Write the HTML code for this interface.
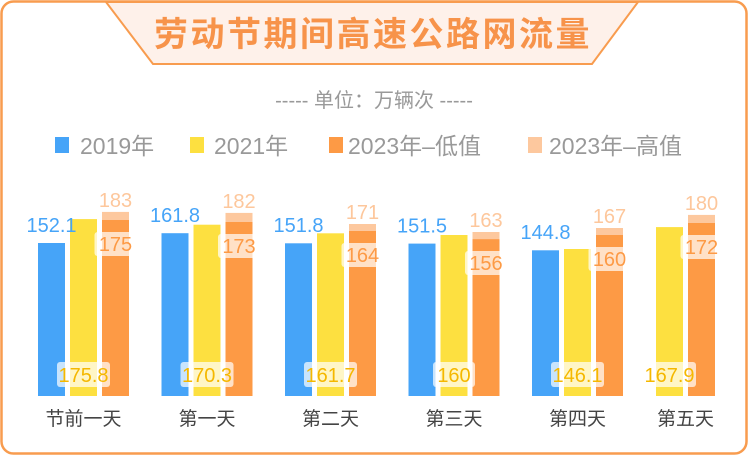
<!DOCTYPE html>
<html><head><meta charset="utf-8"><style>
body{margin:0;background:#fff;}
svg{display:block;font-family:"Liberation Sans","Noto Sans CJK SC",sans-serif;}
</style></head><body>
<svg width="748" height="455" viewBox="0 0 748 455" xmlns="http://www.w3.org/2000/svg">
<rect x="1.5" y="1.5" width="745" height="452" rx="12" fill="#fff" stroke="#f89c4f" stroke-width="2.5"/>
<polygon points="106,2 638,2 592,64 153,64" fill="#fef1ea" stroke="#f89c4f" stroke-width="2"/>
<text x="373" y="46" text-anchor="middle" font-size="34" font-weight="bold" fill="#f7934a" letter-spacing="2.5">劳动节期间高速公路网流量</text>
<text x="374" y="107" text-anchor="middle" font-size="20" fill="#999">----- 单位：万辆次 -----</text>
<g font-size="23" fill="#999">
<rect x="55" y="137" width="14" height="16" fill="#46a4f8"/><text x="80" y="154">2019年</text>
<rect x="190" y="137" width="14" height="16" fill="#fde040"/><text x="214" y="154">2021年</text>
<rect x="329" y="137" width="14" height="16" fill="#fd9a45"/><text x="348" y="154">2023年–低值</text>
<rect x="528" y="137" width="14" height="16" fill="#fdc89e"/><text x="549" y="154">2023年–高值</text>
</g>
<g>
<rect x="38" y="243" width="27" height="153" fill="#46a4f8"/>
<rect x="161.5" y="233.2" width="27" height="162.8" fill="#46a4f8"/>
<rect x="285" y="243.3" width="27" height="152.7" fill="#46a4f8"/>
<rect x="408.5" y="243.6" width="27" height="152.4" fill="#46a4f8"/>
<rect x="532" y="250.3" width="27" height="145.7" fill="#46a4f8"/>
<rect x="70" y="219.1" width="27" height="176.9" fill="#fde040"/>
<rect x="193.5" y="224.7" width="27" height="171.3" fill="#fde040"/>
<rect x="317" y="233.3" width="27" height="162.7" fill="#fde040"/>
<rect x="440.5" y="235" width="27" height="161" fill="#fde040"/>
<rect x="564" y="249" width="27" height="147" fill="#fde040"/>
<rect x="656" y="227.1" width="27" height="168.9" fill="#fde040"/>
<rect x="102" y="211.9" width="27" height="9" fill="#fdc89e"/>
<rect x="225.5" y="212.9" width="27" height="10" fill="#fdc89e"/>
<rect x="349" y="224" width="27" height="7" fill="#fdc89e"/>
<rect x="472.5" y="232" width="27" height="7.1" fill="#fdc89e"/>
<rect x="596" y="228" width="27" height="7" fill="#fdc89e"/>
<rect x="688" y="214.9" width="27" height="8.1" fill="#fdc89e"/>
<rect x="102" y="220" width="27" height="176" fill="#fd9a45"/>
<rect x="225.5" y="222" width="27" height="174" fill="#fd9a45"/>
<rect x="349" y="231" width="27" height="165" fill="#fd9a45"/>
<rect x="472.5" y="239.1" width="27" height="156.9" fill="#fd9a45"/>
<rect x="596" y="235" width="27" height="161" fill="#fd9a45"/>
<rect x="688" y="223" width="27" height="173" fill="#fd9a45"/>
</g>
<g font-size="20" text-anchor="middle">
<g fill="#46a4f8">
<text x="51.5" y="232">152.1</text><text x="175" y="222">161.8</text><text x="298.5" y="232">151.8</text><text x="422" y="232.5">151.5</text><text x="545.5" y="239">144.8</text>
</g>
<g fill="#fdc79c">
<text x="115.5" y="207">183</text><text x="239" y="208">182</text><text x="362.5" y="219">171</text><text x="486" y="227">163</text><text x="609.5" y="223">167</text><text x="701.5" y="210">180</text>
</g>
<g fill="#fff" fill-opacity="0.7">
<rect x="94.5" y="232" width="42" height="24" rx="3"/><rect x="218" y="234" width="42" height="24" rx="3"/><rect x="341.5" y="243" width="42" height="24" rx="3"/><rect x="465" y="251" width="42" height="24" rx="3"/><rect x="588.5" y="247" width="42" height="24" rx="3"/><rect x="680.5" y="235" width="42" height="24" rx="3"/>
<rect x="57" y="362" width="53" height="25" rx="3"/><rect x="180.5" y="362" width="53" height="25" rx="3"/><rect x="304" y="362" width="53" height="25" rx="3"/><rect x="433" y="362" width="42" height="25" rx="3"/><rect x="551" y="362" width="53" height="25" rx="3"/><rect x="643" y="362" width="53" height="25" rx="3"/>
</g>
<g fill="#fd9a45">
<text x="115.5" y="251">175</text><text x="239" y="253">173</text><text x="362.5" y="262">164</text><text x="486" y="270">156</text><text x="609.5" y="266">160</text><text x="701.5" y="254">172</text>
</g>
<g fill="#f5b800">
<text x="83.5" y="382">175.8</text><text x="207" y="382">170.3</text><text x="330.5" y="382">161.7</text><text x="454" y="382">160</text><text x="577.5" y="382">146.1</text><text x="669.5" y="382">167.9</text>
</g>
</g>
<g font-size="19" fill="#444" text-anchor="middle">
<text x="83.5" y="425">节前一天</text><text x="207" y="425">第一天</text><text x="330.5" y="425">第二天</text><text x="454" y="425">第三天</text><text x="577.5" y="425">第四天</text><text x="685.5" y="425">第五天</text>
</g>
</svg>
</body></html>
